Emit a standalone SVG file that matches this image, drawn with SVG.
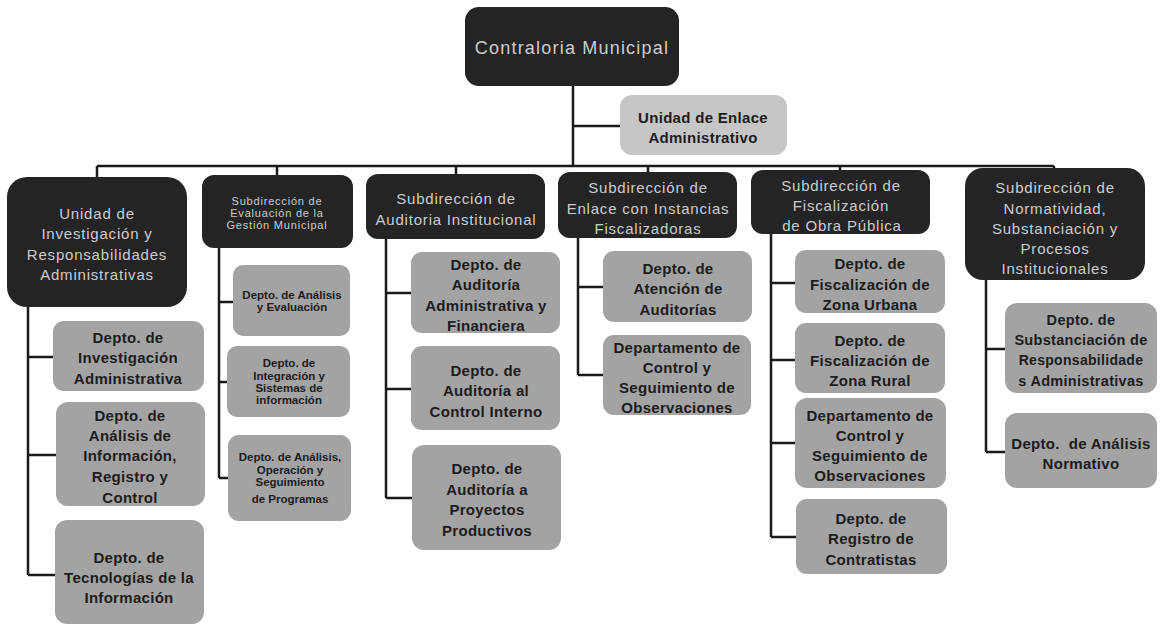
<svg xmlns="http://www.w3.org/2000/svg" width="1165" height="626" viewBox="0 0 1165 626">
<style>
.dark{fill:#242424}
.enl{fill:#c6c6c6}
.dep{fill:#a3a3a3}
.tl{font-family:"Liberation Sans",Arial,sans-serif;fill:#cccccc;text-anchor:middle;dominant-baseline:central;font-size:15px;letter-spacing:0.8px}
.ts{font-size:11px;letter-spacing:0.8px}
.tb{font-family:"Liberation Sans",Arial,sans-serif;font-weight:bold;fill:#1c1c1c;text-anchor:middle;dominant-baseline:central;font-size:15px;letter-spacing:0.3px}
.tbs{font-size:11.5px;letter-spacing:0}
.ln{stroke:#1a1a1a;stroke-width:2.5;fill:none}
</style>
<rect width="1165" height="626" fill="#ffffff"/>
<g id="connectors" class="ln">
<path d="M573 86V166M573 126H620M97 166H1054M97 166V177M277 166V175M456 166V174M648 166V172M840 166V170M1054 166V168"/>
<path d="M28 307V575M28 357H53M28 455H56M28 575H55"/>
<path d="M219 248V478M219 302H233M219 382H227M219 478H228"/>
<path d="M386 239V498M386 293H411M386 389H411M386 498H412"/>
<path d="M578 238V375M578 287H603M578 375H603"/>
<path d="M771 234V537M771 283H795M771 360H795M771 443H795M771 537H796"/>
<path d="M986 280V452M986 349H1005M986 452H1005"/>
</g>
<g id="contraloria">
<rect class="dark" x="465" y="7" width="214" height="79" rx="14"/>
<text class="tl" x="572" y="48" style="font-size:18px;letter-spacing:1.2px">Contraloria Municipal</text>
</g>
<g id="enlace-admin">
<rect class="enl" x="620" y="95" width="167" height="60" rx="12"/>
<text class="tb" x="703" y="117">Unidad de Enlace</text>
<text class="tb" x="703" y="137">Administrativo</text>
</g>
<g id="unidad-investigacion">
<rect class="dark" x="7" y="177" width="180" height="130" rx="20"/>
<text class="tl" x="97" y="213">Unidad de</text>
<text class="tl" x="97" y="233">Investigación y</text>
<text class="tl" x="97" y="254">Responsabilidades</text>
<text class="tl" x="97" y="274">Administrativas</text>
</g>
<g id="sub-evaluacion">
<rect class="dark" x="202" y="175" width="151" height="73" rx="12"/>
<text class="tl ts" x="277" y="201">Subdirección de</text>
<text class="tl ts" x="277" y="213">Evaluación de la</text>
<text class="tl ts" x="277" y="225">Gestión Municipal</text>
</g>
<g id="sub-auditoria">
<rect class="dark" x="366" y="174" width="179" height="65" rx="12"/>
<text class="tl" x="456" y="198">Subdirección de</text>
<text class="tl" x="456" y="219">Auditoria Institucional</text>
</g>
<g id="sub-enlace">
<rect class="dark" x="558" y="172" width="179" height="66" rx="12"/>
<text class="tl" x="648" y="187">Subdirección de</text>
<text class="tl" x="648" y="208">Enlace con Instancias</text>
<text class="tl" x="648" y="228">Fiscalizadoras</text>
</g>
<g id="sub-fiscalizacion">
<rect class="dark" x="751" y="170" width="179" height="64" rx="12"/>
<text class="tl" x="841" y="185">Subdirección de</text>
<text class="tl" x="841" y="205">Fiscalización</text>
<text class="tl" x="842" y="225">de Obra Pública</text>
</g>
<g id="sub-normatividad">
<rect class="dark" x="965" y="168" width="180" height="112" rx="18"/>
<text class="tl" x="1055" y="187">Subdirección de</text>
<text class="tl" x="1055" y="208">Normatividad,</text>
<text class="tl" x="1055" y="228">Substanciación y</text>
<text class="tl" x="1055" y="248">Procesos</text>
<text class="tl" x="1055" y="268">Institucionales</text>
</g>
<g id="d-investigacion">
<rect class="dep" x="53" y="321" width="151" height="70" rx="11"/>
<text class="tb" x="128" y="337">Depto. de</text>
<text class="tb" x="128" y="357">Investigación</text>
<text class="tb" x="128" y="378">Administrativa</text>
</g>
<g id="d-analisis-info">
<rect class="dep" x="56" y="402" width="149" height="104" rx="12"/>
<text class="tb" x="130" y="415">Depto. de</text>
<text class="tb" x="130" y="435">Análisis de</text>
<text class="tb" x="130" y="455">Información,</text>
<text class="tb" x="130" y="476">Registro y</text>
<text class="tb" x="130" y="497">Control</text>
</g>
<g id="d-tecnologias">
<rect class="dep" x="55" y="520" width="149" height="104" rx="12"/>
<text class="tb" x="129" y="557">Depto. de</text>
<text class="tb" x="129" y="577">Tecnologías de la</text>
<text class="tb" x="129" y="597">Información</text>
</g>
<g id="d-analisis-eval">
<rect class="dep" x="233" y="265" width="117" height="71" rx="10"/>
<text class="tb tbs" x="292" y="295">Depto. de Análisis</text>
<text class="tb tbs" x="292" y="307">y Evaluación</text>
</g>
<g id="d-integracion">
<rect class="dep" x="227" y="346" width="123" height="71" rx="10"/>
<text class="tb tbs" x="289" y="363">Depto. de</text>
<text class="tb tbs" x="289" y="376">Integración y</text>
<text class="tb tbs" x="289" y="388">Sistemas de</text>
<text class="tb tbs" x="289" y="400">información</text>
</g>
<g id="d-operacion">
<rect class="dep" x="228" y="435" width="123" height="86" rx="11"/>
<text class="tb tbs" x="290" y="457">Depto. de Análisis,</text>
<text class="tb tbs" x="290" y="470">Operación y</text>
<text class="tb tbs" x="290" y="482">Seguimiento</text>
<text class="tb tbs" x="290" y="499">de Programas</text>
</g>
<g id="d-aud-admin">
<rect class="dep" x="411" y="252" width="149" height="81" rx="11"/>
<text class="tb" x="486" y="264">Depto. de</text>
<text class="tb" x="486" y="284">Auditoría</text>
<text class="tb" x="486" y="305">Administrativa y</text>
<text class="tb" x="486" y="325">Financiera</text>
</g>
<g id="d-aud-control">
<rect class="dep" x="411" y="346" width="149" height="84" rx="11"/>
<text class="tb" x="486" y="370">Depto. de</text>
<text class="tb" x="486" y="390">Auditoría al</text>
<text class="tb" x="486" y="411">Control Interno</text>
</g>
<g id="d-aud-proyectos">
<rect class="dep" x="412" y="445" width="149" height="105" rx="12"/>
<text class="tb" x="487" y="468">Depto. de</text>
<text class="tb" x="487" y="489">Auditoría a</text>
<text class="tb" x="487" y="509">Proyectos</text>
<text class="tb" x="487" y="530">Productivos</text>
</g>
<g id="d-atencion">
<rect class="dep" x="603" y="251" width="149" height="71" rx="11"/>
<text class="tb" x="678" y="268">Depto. de</text>
<text class="tb" x="678" y="288">Atención de</text>
<text class="tb" x="678" y="309">Auditorías</text>
</g>
<g id="d-control-enlace">
<rect class="dep" x="603" y="335" width="148" height="80" rx="11"/>
<text class="tb" x="677" y="347">Departamento de</text>
<text class="tb" x="677" y="367">Control y</text>
<text class="tb" x="677" y="387">Seguimiento de</text>
<text class="tb" x="677" y="407">Observaciones</text>
</g>
<g id="d-urbana">
<rect class="dep" x="795" y="250" width="150" height="63" rx="11"/>
<text class="tb" x="870" y="263">Depto. de</text>
<text class="tb" x="870" y="284">Fiscalización de</text>
<text class="tb" x="870" y="304">Zona Urbana</text>
</g>
<g id="d-rural">
<rect class="dep" x="795" y="323" width="150" height="70" rx="11"/>
<text class="tb" x="870" y="340">Depto. de</text>
<text class="tb" x="870" y="360">Fiscalización de</text>
<text class="tb" x="870" y="380">Zona Rural</text>
</g>
<g id="d-control-fisc">
<rect class="dep" x="795" y="398" width="151" height="90" rx="12"/>
<text class="tb" x="870" y="415">Departamento de</text>
<text class="tb" x="870" y="435">Control y</text>
<text class="tb" x="870" y="455">Seguimiento de</text>
<text class="tb" x="870" y="475">Observaciones</text>
</g>
<g id="d-registro">
<rect class="dep" x="796" y="499" width="151" height="75" rx="11"/>
<text class="tb" x="871" y="518">Depto. de</text>
<text class="tb" x="871" y="538">Registro de</text>
<text class="tb" x="871" y="559">Contratistas</text>
</g>
<g id="d-substanciacion">
<rect class="dep" x="1005" y="303" width="152" height="90" rx="12"/>
<text class="tb" x="1081" y="320" style="font-size:14.5px">Depto. de</text>
<text class="tb" x="1081" y="340" style="font-size:14.5px">Substanciación de</text>
<text class="tb" x="1081" y="360" style="font-size:14px">Responsabilidade</text>
<text class="tb" x="1081" y="381" style="font-size:14.5px">s Administrativas</text>
</g>
<g id="d-normativo">
<rect class="dep" x="1005" y="413" width="152" height="75" rx="12"/>
<text class="tb" x="1081" y="443" xml:space="preserve">Depto.  de Análisis</text>
<text class="tb" x="1081" y="463">Normativo</text>
</g>
</svg>
